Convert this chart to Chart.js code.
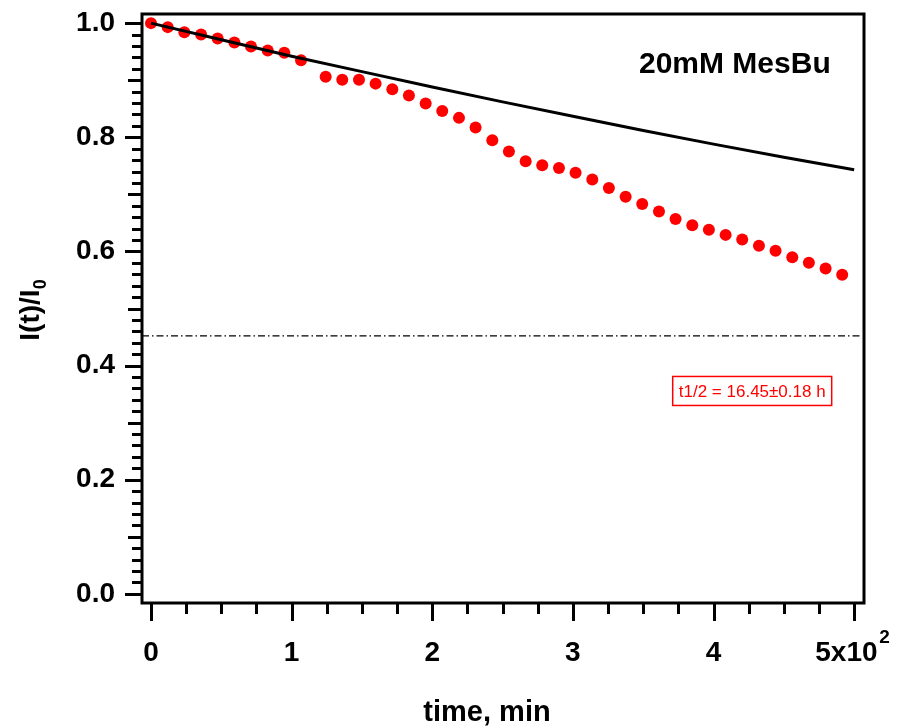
<!DOCTYPE html>
<html>
<head>
<meta charset="utf-8">
<script src="https://cdn.jsdelivr.net/npm/chart.js@4/dist/chart.umd.min.js"></script>
<style>
  html, body { margin: 0; padding: 0; background: #fff; }
  #wrap { width: 901px; height: 728px; position: relative; }
</style>
</head>
<body>
<div id="wrap"><canvas id="chart" width="901" height="728"></canvas></div>
<script>
'use strict';

// ===== データ =====

// 測定点（time, min / I(t)/I0）
const timeMin = [
    0, 11.9, 23.7, 35.6, 47.4, 59.3, 71.1, 83.0, 94.8, 106.7,
    124.2, 136.0, 147.9, 159.7, 171.6, 183.4, 195.3, 207.1, 219.0, 230.8,
    242.7, 254.5, 266.4, 278.2, 290.1, 301.9, 313.8, 325.6, 337.5, 349.3,
    361.2, 373.0, 384.9, 396.7, 408.6, 420.4, 432.3, 444.1, 456.0, 467.8,
    479.7, 491.5,
];
const intensity = [
    1.000, 0.993, 0.984, 0.980, 0.973, 0.966, 0.959, 0.952, 0.948, 0.935,
    0.906, 0.901, 0.901, 0.894, 0.884, 0.873, 0.859, 0.846, 0.834, 0.817,
    0.795, 0.775, 0.758, 0.751, 0.746, 0.738, 0.726, 0.711, 0.696, 0.683,
    0.670, 0.657, 0.646, 0.638, 0.629, 0.621, 0.610, 0.601, 0.590, 0.580,
    0.570, 0.559,
];

// フィット曲線（黒線）
const fitTime = [0, 50, 100, 150, 200, 250, 300, 350, 400, 450, 500];
const fitValue = [1.000, 0.971, 0.942, 0.915, 0.888, 0.862, 0.837, 0.812, 0.788, 0.765, 0.743];

// 半減レベル（一点鎖線）
const halfTime  = [-6.4, 505];
const halfValue = [0.452, 0.452];

// 目盛り（最後のラベルの指数は別に描く）
const xTickValues = [0, 100, 200, 300, 400, 500];
const xTickLabels = ['0', '1', '2', '3', '4', '5x10  '];
const xExponent   = '2';
const yTickValues = [0, 0.2, 0.4, 0.6, 0.8, 1.0];
const yTickLabels = ['0.0', '0.2', '0.4', '0.6', '0.8', '1.0'];

const X_MIN = -6.4, X_MAX = 507;
const Y_MIN = -0.016, Y_MAX = 1.016;

const FONT = '"Liberation Sans", Arial, sans-serif';
const RED  = '#ff0000';

// 軸の余白を固定（ラベルのはみ出しで描画領域が縮まないように）
function fixPadding(s) {
    s.paddingTop = 0;
    s.paddingBottom = 0;
    s.paddingLeft = 0;
    s.paddingRight = 0;
}

// ===== 装飾（枠・目盛り・タイトル） =====

const decorPlugin = {
    id: 'decor',
    afterDraw(chart) {
        const { ctx, chartArea: a, scales: { x, y } } = chart;
        ctx.save();

        // 目盛り線
        ctx.strokeStyle = '#000';
        ctx.lineWidth = 3;
        ctx.lineCap = 'butt';
        ctx.beginPath();
        for (let i = 0; i <= 50; i++) {
            const py = Math.round(y.getPixelForValue(i * 0.02)) + 0.5;
            const len = i % 10 === 0 ? 17 : (i % 5 === 0 ? 14 : 10);
            ctx.moveTo(a.left, py);
            ctx.lineTo(a.left - len, py);
        }
        for (let i = 0; i <= 20; i++) {
            const px = Math.round(x.getPixelForValue(i * 25)) + 0.5;
            const len = i % 4 === 0 ? 18 : 11;
            ctx.moveTo(px, a.bottom);
            ctx.lineTo(px, a.bottom + len);
        }
        ctx.stroke();

        // 枠
        ctx.lineWidth = 3;
        ctx.strokeRect(a.left, a.top, a.right - a.left, a.bottom - a.top);

        // x 軸最後のラベルの指数
        ctx.fillStyle = '#000';
        ctx.font = `bold 19px ${FONT}`;
        ctx.textAlign = 'left';
        ctx.textBaseline = 'alphabetic';
        ctx.fillText(xExponent, x.getPixelForValue(xTickValues[xTickValues.length - 1]) + 25, 643);

        // 凡例テキスト
        ctx.font = `bold 30px ${FONT}`;
        ctx.fillText('20mM MesBu', 639, 73);

        // 半減期ボックス
        const bx = x.getPixelForValue(427.5);
        const by = y.getPixelForValue(0.3555);
        ctx.font = `17px ${FONT}`;
        ctx.textAlign = 'center';
        ctx.textBaseline = 'middle';
        ctx.fillStyle = RED;
        ctx.fillText('t1/2 = 16.45±0.18 h', bx, by + 1);
        ctx.strokeStyle = RED;
        ctx.lineWidth = 1.5;
        ctx.strokeRect(bx - 79.5, by - 14.5, 159, 29);

        // x 軸タイトル
        ctx.fillStyle = '#000';
        ctx.font = `bold 29px ${FONT}`;
        ctx.textAlign = 'center';
        ctx.textBaseline = 'alphabetic';
        ctx.fillText('time, min', 487, 721);

        // y 軸タイトル（下付き 0）
        ctx.translate(39, 310);
        ctx.rotate(-Math.PI / 2);
        ctx.font = `bold 28px ${FONT}`;
        const main = 'I(t)/I';
        const wMain = ctx.measureText(main).width;
        ctx.font = `bold 18px ${FONT}`;
        const wSub = ctx.measureText('0').width;
        const x0 = -(wMain + wSub) / 2;
        ctx.font = `bold 28px ${FONT}`;
        ctx.textAlign = 'left';
        ctx.fillText(main, x0, 0);
        ctx.font = `bold 18px ${FONT}`;
        ctx.fillText('0', x0 + wMain, 7);

        ctx.restore();
    },
};

// ===== グラフ =====

const ctx = document.getElementById('chart').getContext('2d');
new Chart(ctx, {
    type: 'scatter',
    data: {
        datasets: [
            {
                label: 'fit',
                type: 'line',
                data: fitTime.map((t, i) => ({ x: t, y: fitValue[i] })),
                borderColor: '#000',
                borderWidth: 3,
                pointRadius: 0,
                tension: 0,
                order: 0,
            },
            {
                label: 'half',
                type: 'line',
                data: halfTime.map((t, i) => ({ x: t, y: halfValue[i] })),
                borderColor: '#000',
                borderWidth: 1.3,
                borderDash: [7, 3, 1.5, 3],
                pointRadius: 0,
                order: 2,
            },
            {
                label: 'data',
                data: timeMin.map((t, i) => ({ x: t, y: intensity[i] })),
                backgroundColor: RED,
                borderWidth: 0,
                pointRadius: 6,
                order: 1,
            },
        ],
    },
    options: {
        responsive: false,
        animation: false,
        devicePixelRatio: 1,
        layout: { padding: { top: 14, right: 37, left: 0, bottom: 0 } },
        plugins: {
            legend:  { display: false },
            tooltip: { enabled: false },
        },
        scales: {
            x: {
                type: 'linear',
                min: X_MIN,
                max: X_MAX,
                grid:   { display: false, drawTicks: false },
                border: { display: false },
                afterBuildTicks: s => { s.ticks = xTickValues.map(v => ({ value: v })); },
                afterFit: s => { s.height = 125; fixPadding(s); },
                ticks: {
                    autoSkip: false,
                    maxRotation: 0,
                    padding: 33,
                    color: '#000',
                    font: { family: FONT, size: 28, weight: 'bold' },
                    callback: v => xTickLabels[xTickValues.indexOf(v)] ?? '',
                },
            },
            y: {
                type: 'linear',
                min: Y_MIN,
                max: Y_MAX,
                grid:   { display: false, drawTicks: false },
                border: { display: false },
                afterBuildTicks: s => { s.ticks = yTickValues.map(v => ({ value: v })); },
                afterFit: s => { s.width = 142; fixPadding(s); },
                ticks: {
                    autoSkip: false,
                    padding: 27,
                    color: '#000',
                    font: { family: FONT, size: 28, weight: 'bold' },
                    callback: v => {
                        const i = yTickValues.findIndex(t => Math.abs(t - v) < 1e-9);
                        return i >= 0 ? yTickLabels[i] : '';
                    },
                },
            },
        },
    },
    plugins: [decorPlugin],
});
</script>
</body>
</html>
